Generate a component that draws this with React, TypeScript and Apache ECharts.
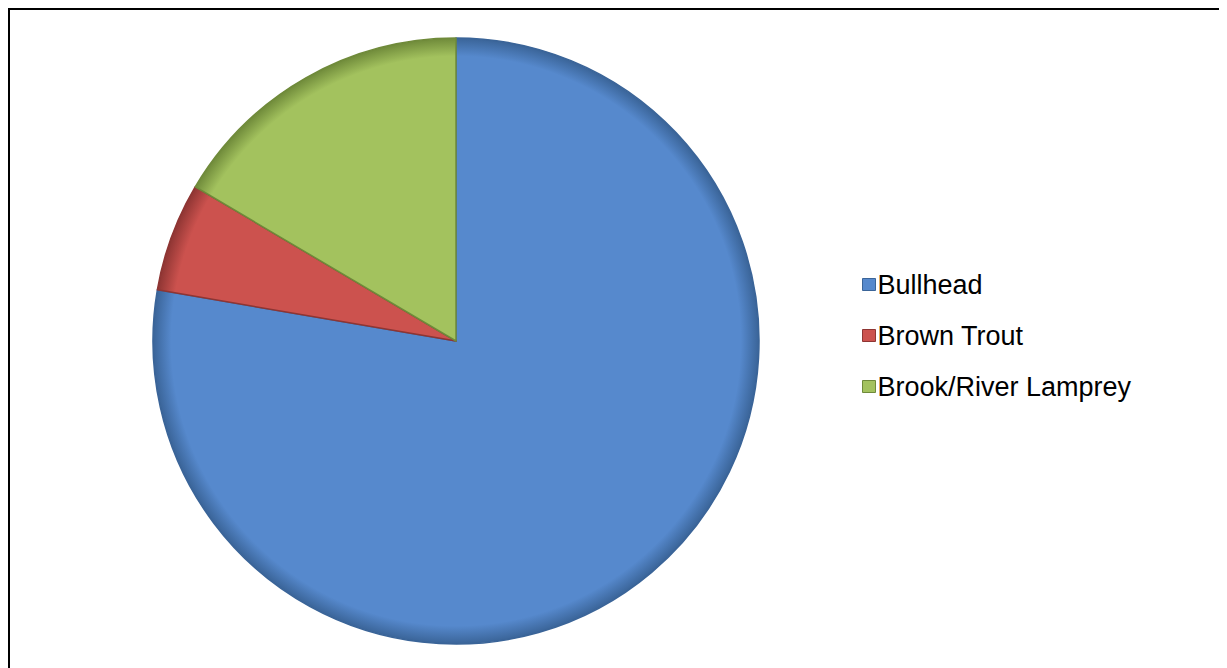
import React, { useEffect, useRef } from "react";
import * as echarts from "echarts";

const categories = ["Bullhead", "Brown Trout", "Brook/River Lamprey"];
const values = [77.7, 5.8, 16.5];
const colors = ["#5689CD", "#CC524E", "#A3C25E"];
const edgeColors = ["#3A6498", "#8E3533", "#6F8A3A"];

const CX = 448;
const CY = 333;
const R = 303;

export default function App() {
  const ref = useRef<HTMLDivElement>(null);
  useEffect(() => {
    const chart = echarts.init(ref.current!, null, { renderer: "svg" });
    chart.setOption({
      animation: false,
      backgroundColor: "#ffffff",
      graphic: [
        { type: "line", shape: { x1: 0, y1: 1, x2: 1219, y2: 1 }, style: { stroke: "#000", lineWidth: 2 } },
        { type: "line", shape: { x1: 1, y1: 0, x2: 1, y2: 660 }, style: { stroke: "#000", lineWidth: 2 } },
      ],
      legend: {
        orient: "vertical",
        left: 849,
        top: 258,
        itemWidth: 13,
        itemHeight: 12,
        itemGap: 24,
        icon: "rect",
        textStyle: { fontFamily: "Liberation Sans, Arial, sans-serif", fontSize: 27, color: "#000", padding: [0, 0, 0, -3] },
        data: categories.map((name, i) => ({ name, itemStyle: { color: colors[i], borderColor: edgeColors[i], borderWidth: 1 } })),
      },
      series: [
        {
          type: "pie",
          center: [CX, CY],
          radius: [0, R],
          startAngle: 90,
          clockwise: true,
          label: { show: false },
          labelLine: { show: false },
          emphasis: { disabled: true },
          data: categories.map((name, i) => ({
            name,
            value: values[i],
            itemStyle: {
              color: new echarts.graphic.RadialGradient(CX, CY, R, [
                { offset: 0, color: colors[i] },
                { offset: 0.94, color: colors[i] },
                { offset: 1, color: edgeColors[i] },
              ], true),
              borderColor: edgeColors[i],
              borderWidth: 1.5,
            },
          })),
        },
      ],
      color: colors,
    });
    return () => chart.dispose();
  }, []);
  return <div ref={ref} style={{ width: 1219, height: 660 }} />;
}
